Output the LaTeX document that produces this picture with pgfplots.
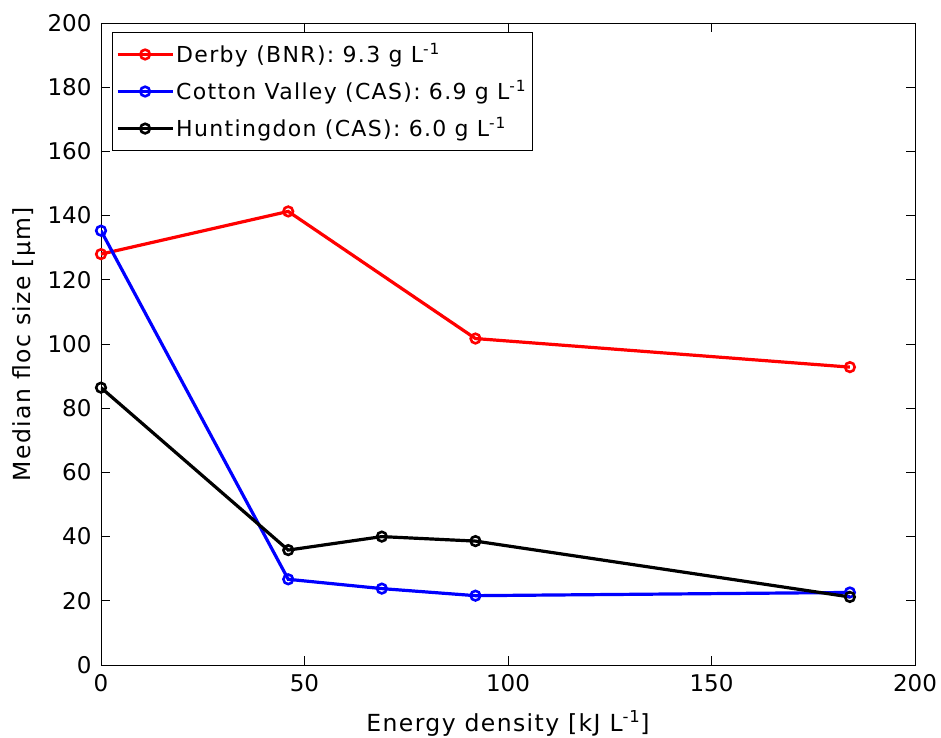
\documentclass[border=0pt]{standalone}
\usepackage{fontspec}
\setmainfont{DejaVu Sans}
\newfontfamily\widefont[LetterSpace=6]{DejaVu Sans}
\usepackage{pgfplots}
\pgfplotsset{compat=1.18}
\begin{document}
\fontsize{22pt}{26pt}\selectfont
\begin{tikzpicture}
\path[use as bounding box] (-101pt,-72pt) rectangle (840pt,665pt);
\begin{axis}[
  at={(0pt,0pt)}, anchor=south west,
  scale only axis, width=814pt, height=642pt,
  xmin=0, xmax=200, ymin=0, ymax=200,
  xtick={0,50,...,200}, ytick={0,20,...,200},
  tick align=inside, major tick length=9pt,
  tick style={black, line width=0.7pt},
  axis line style={line width=0.9pt},
  /pgf/number format/assume math mode=true,
  ticklabel style={font=\fontsize{23pt}{26pt}\selectfont},
  yticklabel style={xshift=-2pt},
  xticklabel style={yshift=-2pt},
  xlabel={Energy density [kJ L\textsuperscript{-1}]},
  ylabel={Median floc size [µm]},
  label style={font=\widefont\fontsize{23.5pt}{26pt}\selectfont},
  xlabel style={yshift=-4pt},
  ylabel style={yshift=-3pt},
  legend style={at={(0.013,0.986)}, anchor=north west, draw=black, line width=0.9pt,
    font=\widefont\fontsize{22pt}{25pt}\selectfont, row sep=11pt, inner xsep=4pt, inner ysep=9pt},
  legend cell align=left,
  legend image code/.code={\draw[#1] (0pt,0pt) -- (55pt,0pt); \draw[#1,mark repeat=1] plot coordinates {(27.5pt,0pt)};},
  every axis plot/.append style={line width=3.2pt, mark=o, mark size=4.8pt, mark options={line width=2.6pt, solid}},
]
\addplot[red] coordinates {(0,128) (46,141.3) (92,101.7) (184,92.8)};
\addlegendentry{Derby (BNR): 9.3 g L\textsuperscript{-1}}
\addplot[blue] coordinates {(0,135.3) (46,26.7) (69,23.8) (92,21.6) (184,22.6)};
\addlegendentry{Cotton Valley (CAS): 6.9 g L\textsuperscript{-1}}
\addplot[black] coordinates {(0,86.4) (46,35.8) (69,40) (92,38.6) (184,21.2)};
\addlegendentry{Huntingdon (CAS): 6.0 g L\textsuperscript{-1}}
\end{axis}
\end{tikzpicture}
\end{document}
